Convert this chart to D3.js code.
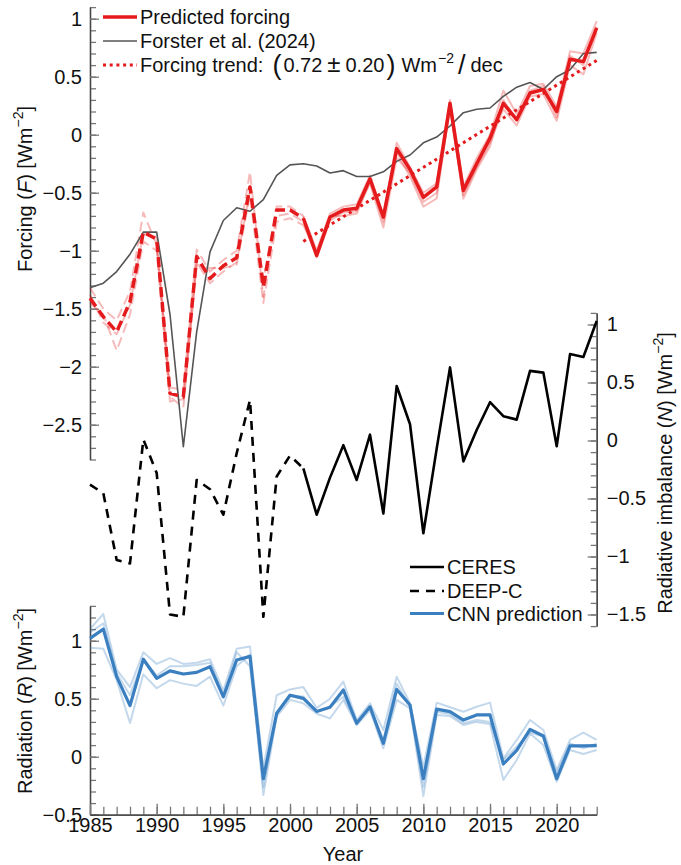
<!DOCTYPE html>
<html lang="en">
<head>
<meta charset="UTF-8">
<title>Forcing, imbalance and radiation</title>
<script src="https://d3js.org/d3.v7.min.js"></script>
<style>
    body { margin: 0; background: #fff; }
    svg text { font-family: "Liberation Sans", Arial, sans-serif; fill: #111; }
    .axis path.domain { stroke: #444; stroke-width: 1.3; }
    .axis line { stroke: #777; stroke-width: 1.3; }
    .axis text { font-size: 20px; fill: #111; }
    .line { fill: none; stroke-linejoin: round; }
</style>
</head>
<body>
<div id="chart"></div>
<script>
// ---- data ----
var years = d3.range(1985, 2024);
var splitYear = 2001;

var forster = [-1.32, -1.28, -1.18, -1.03, -0.84, -0.84, -1.55, -2.69, -1.70, -1.01,
    -0.74, -0.63, -0.66, -0.56, -0.35, -0.26, -0.25, -0.27, -0.33, -0.31,
    -0.36, -0.36, -0.32, -0.23, -0.175, -0.07, -0.02, 0.075, 0.19, 0.22,
    0.23, 0.33, 0.41, 0.45, 0.39, 0.50, 0.56, 0.70, 0.71];

var predF = [-1.41, -1.57, -1.70, -1.44, -0.84, -0.90, -2.23, -2.26, -1.05, -1.24,
    -1.13, -1.06, -0.45, -1.31, -0.65, -0.65, -0.72, -1.04, -0.71, -0.65,
    -0.635, -0.38, -0.71, -0.12, -0.30, -0.54, -0.45, 0.27, -0.48, -0.25,
    -0.03, 0.27, 0.13, 0.36, 0.39, 0.20, 0.65, 0.63, 0.92];

var predFMembers = [
    [-1.32, -1.50, -1.60, -1.35, -0.67, -0.95, -2.18, -2.20, -0.99, -1.18,
     -1.08, -1.00, -0.32, -1.40, -0.62, -0.62, -0.70, -1.00, -0.68, -0.62,
     -0.60, -0.35, -0.70, -0.07, -0.28, -0.50, -0.42, 0.30, -0.45, -0.20,
     0.00, 0.38, 0.18, 0.42, 0.44, 0.24, 0.72, 0.70, 0.98],
    [-1.38, -1.62, -1.72, -1.47, -0.85, -0.88, -2.26, -2.35, -1.10, -1.28,
     -1.18, -1.10, -0.48, -1.25, -0.70, -0.68, -0.75, -1.06, -0.74, -0.67,
     -0.66, -0.42, -0.80, -0.20, -0.33, -0.58, -0.50, 0.22, -0.52, -0.28,
     -0.07, 0.22, 0.08, 0.33, 0.35, 0.12, 0.60, 0.52, 0.88],
    [-1.45, -1.55, -1.86, -1.55, -0.92, -1.00, -2.30, -2.28, -1.12, -1.15,
     -1.15, -1.12, -0.52, -1.45, -0.75, -0.72, -0.78, -1.02, -0.70, -0.70,
     -0.68, -0.40, -0.75, -0.15, -0.36, -0.62, -0.55, 0.25, -0.55, -0.30,
     -0.10, 0.30, 0.12, 0.38, 0.42, 0.15, 0.68, 0.60, 0.93]
];

var trendYears = [2001, 2023];
var trendF = [-0.92, 0.64];

var deepcYears = d3.range(1985, 2002);
var deepc = [-0.38, -0.455, -1.03, -1.06, 0.01, -0.28, -1.50, -1.52, -0.34, -0.42,
    -0.64, -0.11, 0.35, -1.52, -0.31, -0.13, -0.24];

var ceresYears = d3.range(2001, 2024);
var ceres = [-0.24, -0.64, -0.32, -0.04, -0.34, 0.05, -0.63, 0.47, 0.14, -0.80,
    -0.07, 0.63, -0.18, 0.09, 0.33, 0.21, 0.18, 0.60, 0.585, -0.05,
    0.745, 0.72, 1.03];

var cnnR = [1.02, 1.10, 0.69, 0.44, 0.84, 0.676, 0.74, 0.713, 0.727, 0.776,
    0.517, 0.834, 0.865, -0.19, 0.374, 0.53, 0.503, 0.39, 0.426, 0.575,
    0.288, 0.43, 0.115, 0.58, 0.446, -0.19, 0.41, 0.388, 0.316, 0.36,
    0.36, -0.063, 0.055, 0.236, 0.178, -0.19, 0.093, 0.093, 0.095];

var cnnRMembers = [
    [1.10, 1.23, 0.75, 0.60, 0.90, 0.80, 0.85, 0.80, 0.81, 0.84,
     0.57, 0.93, 0.95, -0.10, 0.53, 0.58, 0.60, 0.42, 0.50, 0.647,
     0.316, 0.46, 0.23, 0.69, 0.46, -0.086, 0.466, 0.426, 0.388, 0.431,
     0.466, -0.014, 0.144, 0.316, 0.23, -0.115, 0.144, 0.207, 0.144],
    [1.07, 1.15, 0.72, 0.53, 0.84, 0.70, 0.78, 0.78, 0.79, 0.81,
     0.52, 0.90, 0.78, -0.26, 0.37, 0.53, 0.52, 0.39, 0.43, 0.517,
     0.30, 0.417, 0.144, 0.63, 0.43, -0.26, 0.388, 0.368, 0.288, 0.316,
     0.30, -0.028, 0.086, 0.21, 0.172, -0.144, 0.115, 0.072, 0.115],
    [0.94, 0.93, 0.66, 0.29, 0.71, 0.59, 0.66, 0.63, 0.61, 0.69,
     0.44, 0.78, 0.88, -0.33, 0.345, 0.49, 0.46, 0.37, 0.33, 0.489,
     0.273, 0.40, 0.072, 0.49, 0.417, -0.34, 0.36, 0.35, 0.273, 0.30,
     0.282, -0.20, -0.028, 0.20, 0.10, -0.216, 0.058, 0.023, 0.058]
];

// tick labels
var topTicks = [-2.5, -2, -1.5, -1, -0.5, 0, 0.5, 1];
var midTicks = [-1.5, -1, -0.5, 0, 0.5, 1];
var botTicks = [-0.5, 0, 0.5, 1];
var yearTicks = [1985, 1990, 1995, 2000, 2005, 2010, 2015, 2020];

// ---- layout ----
var W = 681, H = 865;
var red = "#e41a1c", blue = "#3a7fc0";

var svg = d3.select("#chart").append("svg")
    .attr("width", W).attr("height", H);

var x = d3.scaleLinear().domain([1985, 2023]).range([90, 596.7]);
var yTop = d3.scaleLinear().domain([-2.8, 1.1]).range([459.5, 7.1]);
var yMid = d3.scaleLinear().domain([-1.6, 1.1]).range([626.1, 312.9]);
var yBot = d3.scaleLinear().domain([-0.5, 1.3]).range([814.7, 605.9]);

var fmt = function (v) { return String(v).replace("-", "\u2212"); };
var tenths = function (lo, hi) { return d3.range(lo, hi + 1).map(function (k) { return k / 10; }); };

function pairs(xs, vs) { return xs.map(function (yr, i) { return [yr, vs[i]]; }); }
function before(p) { return p.filter(function (d) { return d[0] <= splitYear; }); }
function after(p) { return p.filter(function (d) { return d[0] >= splitYear; }); }
function lineFor(ys) {
    return d3.line().x(function (d) { return x(d[0]); }).y(function (d) { return ys(d[1]); });
}

function drawLine(data, ys, color, width, dash, opacity) {
    svg.append("path")
        .datum(data)
        .attr("class", "line")
        .attr("d", lineFor(ys))
        .attr("stroke", color)
        .attr("stroke-width", width)
        .attr("stroke-dasharray", dash || null)
        .attr("stroke-opacity", opacity == null ? 1 : opacity);
}

// ---- axes ----
function vAxis(axisFn, ys, pos, major, minor) {
    svg.append("g").attr("class", "axis")
        .attr("transform", "translate(" + pos + ",0)")
        .call(axisFn(ys).tickValues(minor).tickSize(-6).tickSizeOuter(0).tickFormat(""));
    svg.append("g").attr("class", "axis")
        .attr("transform", "translate(" + pos + ",0)")
        .call(axisFn(ys).tickValues(major).tickSize(-9).tickSizeOuter(0)
            .tickPadding(axisFn === d3.axisLeft ? 8 : 10).tickFormat(fmt));
}

vAxis(d3.axisLeft, yTop, x(1985), topTicks, tenths(-28, 11));
vAxis(d3.axisRight, yMid, x(2023), midTicks, tenths(-16, 11));
vAxis(d3.axisLeft, yBot, x(1985), botTicks, tenths(-5, 13));

svg.append("g").attr("class", "axis")
    .attr("transform", "translate(0," + yBot(-0.5) + ")")
    .call(d3.axisBottom(x).tickValues(years).tickSize(-8).tickSizeOuter(0).tickFormat(""));
svg.append("g").attr("class", "axis")
    .attr("transform", "translate(0," + yBot(-0.5) + ")")
    .call(d3.axisBottom(x).tickValues(yearTicks).tickSize(-11).tickSizeOuter(0)
        .tickPadding(3).tickFormat(d3.format("d")));

// ---- top panel: forcing ----
predFMembers.forEach(function (m) {
    var p = pairs(years, m);
    drawLine(before(p), yTop, red, 2, "10,5", 0.3);
    drawLine(after(p), yTop, red, 2, null, 0.3);
});
drawLine(pairs(years, forster), yTop, "#555", 1.6);
drawLine(pairs(trendYears, trendF), yTop, red, 3, "3,3.7");
var pf = pairs(years, predF);
drawLine(before(pf), yTop, red, 3.5, "10,5");
drawLine(after(pf), yTop, red, 3.5);

// ---- middle panel: radiative imbalance ----
drawLine(pairs(deepcYears, deepc), yMid, "#000", 2.6, "9,7");
drawLine(pairs(ceresYears, ceres), yMid, "#000", 2.6);

// ---- bottom panel: radiation ----
cnnRMembers.forEach(function (m) {
    drawLine(pairs(years, m), yBot, blue, 2, null, 0.3);
});
drawLine(pairs(years, cnnR), yBot, blue, 3.2);

// ---- legends ----
function legendRow(x0, y0, color, width, dash, label) {
    svg.append("line")
        .attr("x1", x0).attr("x2", x0 + 34)
        .attr("y1", y0).attr("y2", y0)
        .attr("stroke", color).attr("stroke-width", width)
        .attr("stroke-dasharray", dash || null);
    var t = svg.append("text").attr("x", x0 + 37).attr("y", y0 + 7).style("font-size", "20px");
    if (typeof label === "string") t.text(label);
    else label(t);
}

legendRow(103, 17, red, 3.5, null, "Predicted forcing");
legendRow(103, 41, "#555", 1.6, null, "Forster et al. (2024)");
legendRow(103, 65, red, 3, "3,3.7", function (t) {
    t.append("tspan").text("Forcing trend:");
    t.append("tspan").style("font-size", "27px").attr("dx", 9).attr("dy", 2).text("(");
    t.append("tspan").attr("dx", 2).attr("dy", -2).text("0.72");
    t.append("tspan").style("font-size", "24px").attr("dx", 5).text("\u00b1");
    t.append("tspan").attr("dx", 5).text("0.20");
    t.append("tspan").style("font-size", "27px").attr("dx", 2).attr("dy", 2).text(")");
    t.append("tspan").attr("dx", 6).attr("dy", -2).text("Wm");
    t.append("tspan").style("font-size", "14px").attr("dx", 1).attr("dy", -9).text("\u22122");
    t.append("tspan").style("font-size", "27px").attr("dx", 4).attr("dy", 11).text("/");
    t.append("tspan").attr("dx", 5).attr("dy", -2).text("dec");
});

legendRow(410, 567, "#000", 2.6, null, "CERES");
legendRow(410, 591, "#000", 2.6, "9,7", "DEEP-C");
legendRow(410, 613.5, blue, 3.2, null, "CNN prediction");

// ---- axis titles ----
function axisTitle(tx, ty, rot, name, sym) {
    var t = svg.append("text")
        .attr("transform", "translate(" + tx + "," + ty + ")" + (rot ? " rotate(" + rot + ")" : ""))
        .attr("text-anchor", "middle")
        .style("font-size", "20px");
    if (!sym) { t.text(name); return; }
    t.append("tspan").text(name + " (");
    t.append("tspan").style("font-style", "italic").text(sym);
    t.append("tspan").text(") [Wm");
    t.append("tspan").style("font-size", "14px").attr("dy", -9).text("\u22122");
    t.append("tspan").attr("dy", 9).text("]");
}

axisTitle(32, 189, -90, "Forcing", "F");
axisTitle(32, 701, -90, "Radiation", "R");
axisTitle(672, 473, -90, "Radiative imbalance", "N");
axisTitle(343, 861, 0, "Year");
</script>
</body>
</html>
